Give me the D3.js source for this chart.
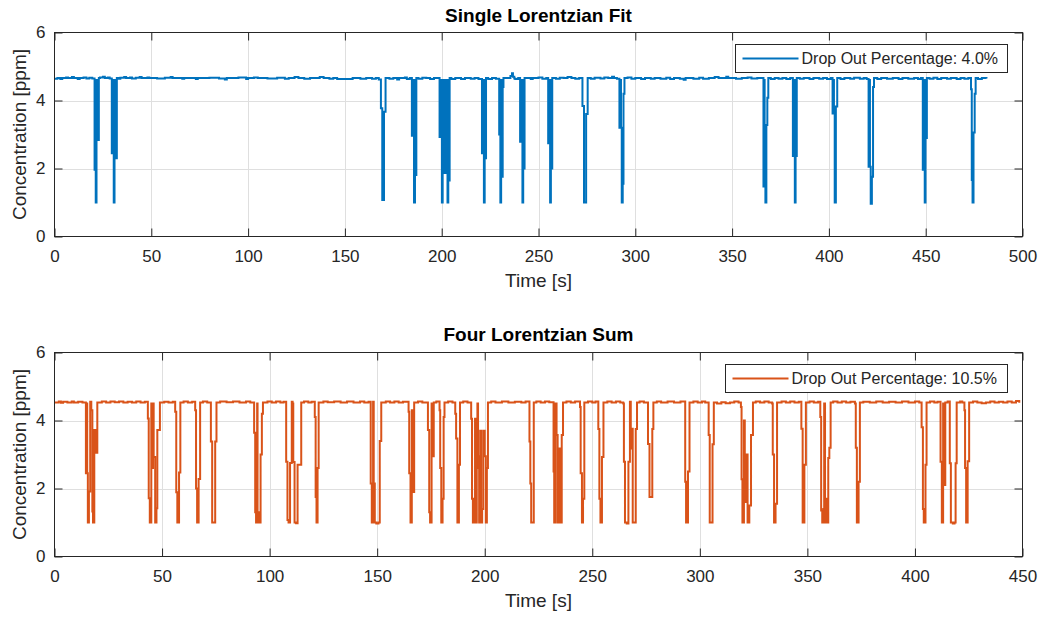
<!DOCTYPE html>
<html><head><meta charset="utf-8">
<script src="https://cdn.jsdelivr.net/npm/d3@7"></script>
<style>
body{margin:0;background:#fff}
svg text{font-family:"Liberation Sans",Arial,Helvetica,sans-serif}
</style>
</head><body>
<svg id="chart" width="1042" height="617"></svg>
<script>
// ---------- DATA ----------
const yTicks = [0, 2, 4, 6];
const xTicksTop = [0, 50, 100, 150, 200, 250, 300, 350, 400, 450, 500];
const xTicksBottom = [0, 50, 100, 150, 200, 250, 300, 350, 400, 450];
const titles = ["Single Lorentzian Fit", "Four Lorentzian Sum"];
const legendLabels = ["Drop Out Percentage: 4.0%", "Drop Out Percentage: 10.5%"];
const xLabel = "Time [s]";
const yLabel = "Concentration [ppm]";

// [time s, concentration ppm] – value holds until the next sample
const singleFit = [
[0,4.64],[1.5,4.66],[3,4.63],[4,4.66],[6,4.68],[7,4.66],[9,4.69],[10,4.66],[12,4.63],[13,4.66],[15,4.68],[16.5,4.65],[18,4.67],[19.5,4.65],
[20.7,1.96],[21.1,4.55],[21.3,1.0],[21.7,4.6],[21.9,2.84],[22.3,4.6],[22.5,2.84],[22.9,4.66],
[23.5,4.68],[25,4.70],[26,4.66],[27.5,4.68],[28.5,4.65],
[29.6,2.45],[30.0,4.6],[30.2,2.45],[30.6,1.0],[31.0,4.6],[31.2,2.3],[31.6,4.6],[31.8,2.3],[32.2,4.66],
[33,4.64],[34,4.67],[36,4.69],[37,4.66],[39,4.68],[40,4.65],[42,4.67],[44,4.69],[45,4.66],[48,4.68],[49,4.66],[53,4.65],[57,4.67],[60,4.69],[61,4.66],[66,4.64],[67,4.66],[73,4.63],[74,4.66],[80,4.67],[85,4.65],[88,4.62],[89,4.66],[95,4.68],[99,4.63],[100,4.66],[103,4.68],[105,4.66],[110,4.65],[115,4.67],[119,4.64],[121,4.66],[124,4.69],[126,4.66],[129,4.64],[132,4.66],[137,4.69],[139,4.66],[142,4.64],[144,4.66],[146,4.63],[150,4.63],[154,4.66],[158,4.64],[161,4.66],[164,4.64],[166,4.66],[167.5,4.62],
[168.6,3.77],[169.3,1.07],[170.2,3.67],[171.0,4.66],
[173,4.64],[175,4.66],[177,4.62],[178,4.66],[181,4.68],[182,4.63],[183.5,4.66],
[184.6,2.96],[185.0,4.6],[185.2,2.96],[185.7,1.0],[186.2,4.6],[186.4,1.81],[186.9,4.66],
[188,4.64],[190,4.67],[192,4.66],[194,4.63],[196,4.66],[198,4.66],
[198.9,2.93],[199.3,4.6],[199.5,2.93],[200.1,1.0],[200.5,4.6],[200.8,1.87],[201.2,4.6],[201.5,3.08],[201.9,4.6],[202.2,1.87],[202.6,4.6],[203.0,1.0],[203.4,4.6],[203.7,1.65],[204.1,4.66],
[205,4.63],[207,4.66],[210,4.63],[212,4.66],[215,4.64],[217,4.66],[219,4.63],
[220.8,2.45],[221.2,4.6],[221.4,2.45],[221.8,1.0],[222.2,4.6],[222.4,2.3],[222.9,4.66],
[224,4.63],[226,4.66],[228,4.64],
[229.7,3.0],[230.3,1.0],[230.7,4.6],[230.9,1.76],[231.5,4.4],[231.9,4.66],
[235.5,4.72],[236.3,4.8],[236.8,4.7],[237.5,4.65],
[238,4.63],[239.5,4.66],
[240.5,2.79],[241.0,4.6],[241.2,2.79],[241.7,1.0],[242.1,4.6],[242.3,2.0],[242.8,4.66],
[244,4.66],[246,4.63],[247,4.66],[250,4.68],[252,4.64],[254,4.66],
[255.0,2.74],[255.4,4.6],[255.6,2.74],[256.0,1.0],[256.4,4.6],[256.6,2.0],[257.1,4.66],
[259,4.64],[261,4.67],[263,4.66],[265,4.69],[267,4.66],[269,4.64],[271,4.66],
[272.7,3.84],[273.5,1.0],[274.6,3.6],[275.4,4.66],
[277,4.64],[279,4.67],[282,4.65],[284,4.68],[286,4.66],[288,4.70],[289,4.66],[290.5,4.64],
[291.8,3.2],[292.4,4.6],[292.6,3.2],[293.0,1.0],[293.5,1.55],[293.9,4.2],[294.4,4.66],
[296,4.68],[298,4.64],[300,4.66],[303,4.63],[305,4.66],[308,4.64],[310,4.66],[313,4.64],[316,4.67],[318,4.63],[320,4.66],[323,4.64],[325,4.61],[326,4.66],[330,4.64],[333,4.67],[335,4.64],[338,4.66],[341,4.69],[343,4.66],[347,4.70],[348,4.66],[352,4.64],[355,4.66],[358,4.68],[360,4.65],[363,4.66],[365,4.66],
[366.2,1.47],[366.6,4.6],[366.8,1.47],[367.2,1.0],[367.7,3.28],[368.2,4.08],[368.7,4.66],
[370,4.63],[372,4.66],[374,4.64],[376,4.66],[378,4.63],[380,4.66],
[381.4,2.37],[381.8,4.6],[382.0,2.37],[382.4,1.0],[382.8,4.6],[383.0,2.37],[383.4,4.66],
[385,4.64],[387,4.66],[390,4.63],[392,4.66],[395,4.64],[397,4.66],[399,4.63],[401,4.66],
[401.9,3.62],[402.4,4.6],[402.6,3.62],[403.0,1.0],[403.6,3.82],[404.3,4.66],
[406,4.63],[408,4.66],[411,4.64],[413,4.67],[416,4.64],[418,4.66],[419.5,4.63],
[420.5,2.05],[421.0,4.6],[421.2,2.05],[421.6,0.96],[422.2,1.76],[422.8,4.4],[423.3,4.66],
[425,4.63],[427,4.66],[430,4.64],[433,4.66],[436,4.63],[438,4.66],[441,4.64],[444,4.66],[446,4.63],[447.5,4.66],
[448.5,1.96],[448.9,4.6],[449.1,1.96],[449.5,1.0],[449.9,4.6],[450.1,2.9],[450.6,4.66],
[452,4.64],[454,4.67],[456,4.63],[458,4.66],[461,4.64],[463,4.66],[466,4.63],[468,4.66],[470,4.64],[472,4.66],
[473.4,4.33],[473.8,1.66],[474.2,1.0],[474.7,3.06],[475.3,4.2],[475.8,4.66],
[477,4.63],[479,4.66],[481.4,4.65]
];

const fourSum = [
[0,4.53],[2,4.56],[3,4.52],[4,4.55],[6,4.53],[8,4.56],[9,4.53],[11,4.55],[13,4.53],
[14.6,2.45],[15.0,4.5],[15.2,2.45],[15.5,1.0],[16.0,1.91],[16.6,4.55],[17.1,4.3],[17.6,1.32],[17.9,1.0],[18.5,3.72],[19.2,3.05],[19.9,4.53],
[22,4.56],[24,4.53],[26,4.56],[28,4.54],[30,4.56],[32,4.53],[34,4.55],[36,4.53],[38,4.56],[40,4.53],[42,4.55],
[43.4,4.06],[43.8,1.71],[44.3,1.0],[45.0,4.5],[45.4,2.6],[45.8,4.5],[46.1,2.93],[46.8,1.0],[47.4,1.42],[47.8,3.72],[48.5,3.72],[49.0,4.53],
[51,4.55],[53,4.53],[55,4.55],
[56.1,4.26],[56.6,1.89],[57.1,1.0],[57.9,2.47],[58.5,4.53],
[60,4.56],[62,4.53],[64,4.55],
[65.4,4.3],[65.8,2.0],[66.3,1.0],[67.0,2.28],[67.7,4.53],
[69,4.56],[71,4.53],
[72.7,3.38],[73.3,1.0],[74.7,3.38],[75.3,4.53],
[77,4.56],[80,4.54],[83,4.56],[86,4.53],[89,4.56],[91,4.53],
[92.8,3.64],[93.3,1.3],[93.7,1.0],[94.2,4.5],[94.4,1.0],[94.8,1.3],[95.3,1.0],[95.8,3.0],[96.4,4.2],[96.9,4.53],
[99,4.56],[101,4.53],[103,4.56],[105,4.53],[106.5,4.55],
[107.7,2.79],[108.3,1.07],[108.8,1.0],[109.5,2.75],[110.3,4.55],[110.7,4.5],[111.0,2.78],[111.6,1.0],[112.3,0.98],[113.0,2.7],[114.0,2.7],[114.7,4.53],
[116,4.56],[118,4.53],[119.5,4.55],
[121.0,4.1],[121.4,1.75],[121.8,1.0],[122.3,2.6],[122.8,4.53],
[125,4.56],[127,4.54],[130,4.56],[133,4.53],[136,4.56],[139,4.53],[142,4.56],[144,4.53],[146,4.55],
[147.0,2.15],[147.5,1.0],[148.1,4.55],[148.4,2.15],[148.9,1.0],[149.6,0.97],[150.6,1.0],[151.2,3.4],[151.9,4.53],
[154,4.56],[156,4.53],[158,4.56],[160,4.53],[162,4.55],
[164.6,4.26],[164.9,2.45],[165.5,1.0],[166.1,4.3],[166.5,1.9],[167.2,4.53],
[169,4.56],[171,4.53],
[173.6,3.72],[174.2,1.3],[174.6,1.0],[175.3,4.5],[175.6,2.95],[176.3,4.53],
[177.5,4.56],
[179.0,4.3],[179.3,2.6],[179.8,1.0],[180.4,1.7],[180.9,4.1],[181.3,4.53],
[183,4.56],[185,4.53],
[186.3,4.2],[186.7,3.47],[187.3,1.0],[188.0,2.7],[188.5,4.53],
[190,4.56],[192,4.53],
[193.7,4.05],[194.1,1.7],[194.5,1.0],[195.0,1.7],[195.5,4.05],[195.8,1.0],[196.3,2.6],[196.6,4.5],[196.9,2.95],[197.4,1.0],[197.9,3.7],[198.3,1.0],[198.8,1.4],[199.3,3.7],[200.0,2.95],[200.5,1.0],[201.0,2.6],[201.5,4.53],
[203,4.56],[205,4.53],[208,4.56],[211,4.53],[214,4.55],[217,4.53],[219,4.56],
[220.8,3.38],[221.2,2.15],[221.6,1.0],[222.8,4.53],
[224,4.56],[226,4.53],[228,4.56],[230,4.54],
[232.0,2.5],[232.3,1.0],[232.9,4.5],[233.4,3.57],[233.9,1.0],[234.5,3.18],[235.2,1.0],[235.8,3.57],[236.4,4.53],
[238,4.56],[240,4.53],[242,4.56],
[244.3,4.4],[244.6,2.45],[245.2,1.0],[245.7,1.7],[246.3,4.53],
[248,4.56],[250,4.53],[251.5,4.56],
[252.8,3.75],[253.3,1.7],[253.8,1.0],[254.5,2.93],[255.2,4.53],
[257,4.56],[259,4.53],[261,4.56],[263,4.53],
[264.4,4.5],[264.7,2.79],[265.2,1.0],[266.0,0.97],[266.8,2.79],[267.5,4.55],[267.9,3.18],[268.4,3.76],[268.8,1.0],[269.6,1.0],[270.2,3.75],[270.8,4.53],
[272,4.56],[274,4.53],
[275.9,3.31],[276.6,1.75],[277.3,1.75],[277.9,3.75],[278.4,4.53],
[280,4.56],[282,4.53],[285,4.56],[288,4.53],[291,4.56],
[293.2,2.2],[293.6,1.0],[294.5,2.5],[295.2,4.53],
[297,4.56],[299,4.53],[301,4.56],[302.5,4.53],
[304.1,3.57],[304.6,1.0],[305.9,3.3],[306.5,4.53],
[308,4.50],[310,4.54],[312,4.51],[314,4.53],[316,4.56],[318,4.53],
[319.1,4.4],[319.4,2.27],[319.8,1.0],[320.5,4.0],[320.9,1.6],[321.6,3.0],[322.2,1.0],[323.0,1.5],[323.8,3.57],[324.7,4.53],
[326,4.56],[328,4.53],[330,4.56],[332,4.53],
[333.6,4.5],[333.9,3.0],[334.5,1.0],[335.2,1.55],[335.9,4.53],
[338,4.56],[340,4.53],[342,4.56],[344,4.53],[346,4.55],
[347.2,3.76],[347.8,1.0],[348.6,2.7],[349.3,4.53],
[351,4.56],[353,4.53],[355,4.55],
[356.0,4.1],[356.4,1.35],[356.9,1.0],[357.4,1.4],[357.8,4.5],[358.2,1.0],[358.7,1.7],[359.2,1.0],[359.7,2.9],[360.2,3.2],[360.8,4.53],
[362,4.56],[364,4.53],[366,4.56],[368,4.53],[370,4.55],
[372.1,4.5],[372.5,3.2],[373.0,1.0],[373.8,2.2],[374.4,4.53],
[376,4.55],[379,4.53],[382,4.56],[385,4.53],[388,4.55],[391,4.53],[394,4.56],[397,4.53],[400,4.56],[402,4.53],
[403.1,3.8],[403.7,1.4],[404.1,1.0],[404.9,2.7],[405.4,4.53],
[407,4.56],[409,4.53],[410.5,4.55],
[411.9,2.79],[412.5,1.0],[413.1,4.5],[413.5,2.1],[414.1,4.53],[415.2,4.56],[416.2,2.74],[416.7,1.0],[417.6,0.97],[418.4,1.0],[418.9,2.74],[419.4,4.53],
[421,4.56],[422,4.53],
[423.0,4.3],[423.3,2.6],[423.8,1.0],[424.5,2.8],[425.2,4.53],
[427,4.56],[429,4.53],[431,4.51],[433,4.53],[435,4.56],[437,4.53],[439,4.55],[441,4.53],[443,4.56],[445,4.53],[447,4.57],[448.5,4.52]
];

// ---------- DRAWING ----------
const svg = d3.select("#chart");
const AX = "#262626";
const panels = [
  {data: singleFit, xMax: 500, xTicks: xTicksTop, top: 32.5, bottom: 236.5, color: "#0072BD",
   title: titles[0], titleY: 22, legend: legendLabels[0], legBox: [735.5, 44.5, 272, 28]},
  {data: fourSum, xMax: 450, xTicks: xTicksBottom, top: 352.5, bottom: 556.5, color: "#D95319",
   title: titles[1], titleY: 341, legend: legendLabels[1], legBox: [725.5, 364.5, 282, 28]}
];
const L = 54.5, R = 1022.5;

panels.forEach(p => {
  const x = d3.scaleLinear().domain([0, p.xMax]).range([L, R]);
  const y = d3.scaleLinear().domain([0, 6]).range([p.bottom, p.top]);
  const g = svg.append("g");

  // grid
  g.append("g").selectAll("line").data(p.xTicks.slice(1, -1)).join("line")
    .attr("x1", d => Math.round(x(d)) + 0.5).attr("x2", d => Math.round(x(d)) + 0.5)
    .attr("y1", p.top).attr("y2", p.bottom).attr("stroke", "#dfdfdf").attr("stroke-width", 1);
  g.append("g").selectAll("line").data(yTicks.slice(1, -1)).join("line")
    .attr("y1", d => Math.round(y(d)) + 0.5).attr("y2", d => Math.round(y(d)) + 0.5)
    .attr("x1", L).attr("x2", R).attr("stroke", "#dfdfdf").attr("stroke-width", 1);

  // data line
  const line = d3.line().x(d => x(d[0])).y(d => y(d[1])).curve(d3.curveStepAfter);
  g.append("path").datum(p.data).attr("d", line).attr("fill", "none")
    .attr("stroke", p.color).attr("stroke-width", 2).attr("stroke-linejoin", "miter");

  // axes
  const tickLen = 8;
  const xb = g.append("g").attr("transform", `translate(0,${p.bottom})`)
    .call(d3.axisBottom(x).tickValues(p.xTicks).tickFormat(d3.format("d")).tickSize(-tickLen).tickSizeOuter(0).tickPadding(13));
  const xt = g.append("g").attr("transform", `translate(0,${p.top})`)
    .call(d3.axisTop(x).tickValues(p.xTicks).tickFormat("").tickSize(-tickLen).tickSizeOuter(0));
  const yl = g.append("g").attr("transform", `translate(${L},0)`)
    .call(d3.axisLeft(y).tickValues(yTicks).tickFormat(d3.format("d")).tickSize(-tickLen).tickSizeOuter(0).tickPadding(9));
  const yr = g.append("g").attr("transform", `translate(${R},0)`)
    .call(d3.axisRight(y).tickValues(yTicks).tickFormat("").tickSize(-tickLen).tickSizeOuter(0));
  [xb, xt, yl, yr].forEach(a => {
    a.select(".domain").remove();
    a.selectAll(".tick line").attr("stroke", AX).attr("stroke-width", 1);
    a.selectAll("text").attr("fill", AX).style("font-size", "17px").style("font-family", '"Liberation Sans",Arial,sans-serif');
  });
  // box
  g.append("rect").attr("x", L).attr("y", p.top).attr("width", R - L).attr("height", p.bottom - p.top)
    .attr("fill", "none").attr("stroke", AX).attr("stroke-width", 1);

  // title
  g.append("text").attr("x", (L + R) / 2).attr("y", p.titleY).attr("text-anchor", "middle")
    .style("font-size", "19px").style("font-weight", "bold").attr("fill", "#000").text(p.title);
  // axis labels
  g.append("text").attr("x", (L + R) / 2).attr("y", p.bottom + 50).attr("text-anchor", "middle")
    .style("font-size", "19px").attr("fill", AX).text(xLabel);
  g.append("text").attr("transform", `translate(26,${(p.top + p.bottom) / 2}) rotate(-90)`)
    .attr("text-anchor", "middle").style("font-size", "19px").attr("fill", AX).text(yLabel);

  // legend
  const [lx, ly, lw, lh] = p.legBox;
  g.append("rect").attr("x", lx).attr("y", ly).attr("width", lw).attr("height", lh)
    .attr("fill", "#fff").attr("stroke", AX).attr("stroke-width", 1);
  g.append("line").attr("x1", lx + 7).attr("x2", lx + 63).attr("y1", ly + lh / 2).attr("y2", ly + lh / 2)
    .attr("stroke", p.color).attr("stroke-width", 2);
  g.append("text").attr("x", lx + 66).attr("y", ly + lh / 2).attr("dy", "0.35em")
    .style("font-size", "16px").attr("fill", AX).text(p.legend);
});
</script>
</body></html>
